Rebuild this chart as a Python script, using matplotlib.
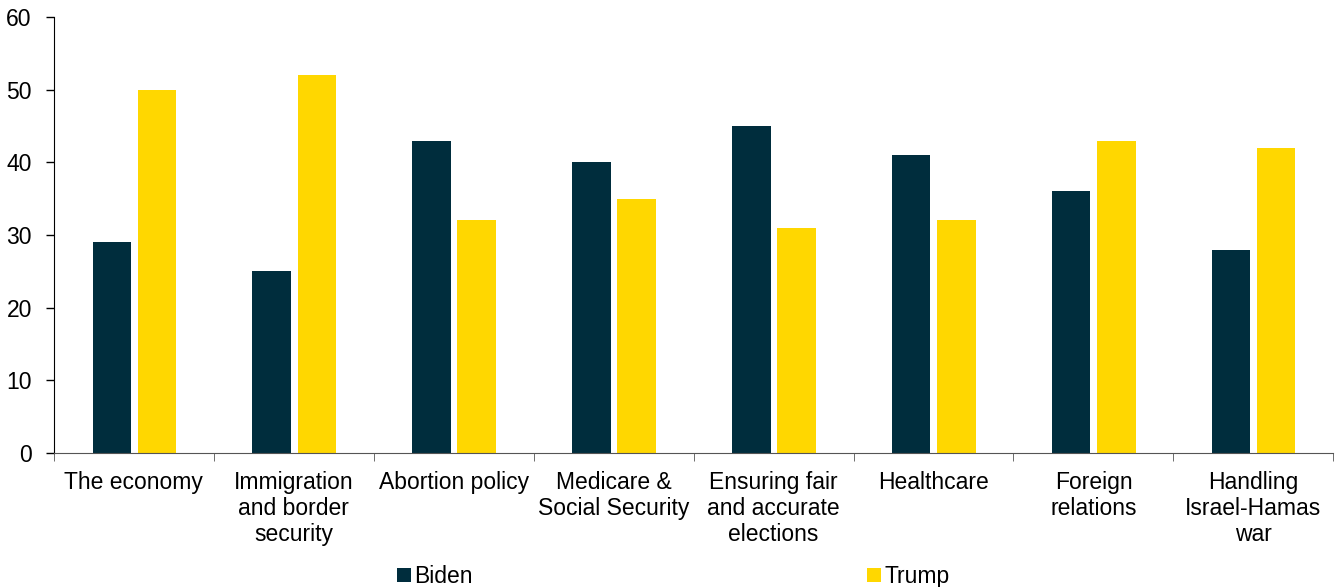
import matplotlib.pyplot as plt
import numpy as np

plt.rcParams["font.family"] = ["Liberation Sans", "DejaVu Sans"]

categories = ["The economy", "Immigration\nand border\nsecurity", "Abortion policy",
              "Medicare &\nSocial Security", "Ensuring fair\nand accurate\nelections",
              "Healthcare", "Foreign\nrelations", "Handling\nIsrael-Hamas\nwar"]
biden = [29, 25, 43, 40, 45, 41, 36, 28]
trump = [50, 52, 32, 35, 31, 32, 43, 42]

BIDEN_COLOR = "#002D3D"
TRUMP_COLOR = "#FFD700"
FS = 16.5


def main():
    fig = plt.figure(figsize=(13.36, 5.87), dpi=100)
    ax = fig.add_axes([0.0404, 0.2283, 0.9576, 0.7427])

    x = np.arange(len(categories))
    w = 0.24
    ax.bar(x - 0.139, biden, width=w, color=BIDEN_COLOR, label="Biden")
    ax.bar(x + 0.143, trump, width=w, color=TRUMP_COLOR, label="Trump")

    ax.set_xlim(-0.5, len(categories) - 0.5)
    ax.set_ylim(0, 60)
    ax.set_yticks(range(0, 61, 10))
    ax.tick_params(axis="y", labelsize=FS, length=6, width=1, pad=10)

    ax.set_xticks(x)
    ax.set_xticklabels(categories, fontsize=FS, linespacing=1.17)
    ax.tick_params(axis="x", length=0, pad=13)
    ax.set_xticks(np.arange(-0.5, len(categories)), minor=True)
    ax.tick_params(axis="x", which="minor", length=6, color="#555555")

    for s in ["top", "right"]:
        ax.spines[s].set_visible(False)
    ax.spines["bottom"].set_color("#555555")
    ax.spines["left"].set_color("black")

    fig.legend(loc="lower center", bbox_to_anchor=(0.504, -0.037), ncol=2,
               frameon=False, fontsize=FS, handlelength=0.6, handleheight=0.6,
               handletextpad=0.15, columnspacing=17.2)

    fig.savefig("out.png", dpi=100)


if __name__ == "__main__":
    main()
